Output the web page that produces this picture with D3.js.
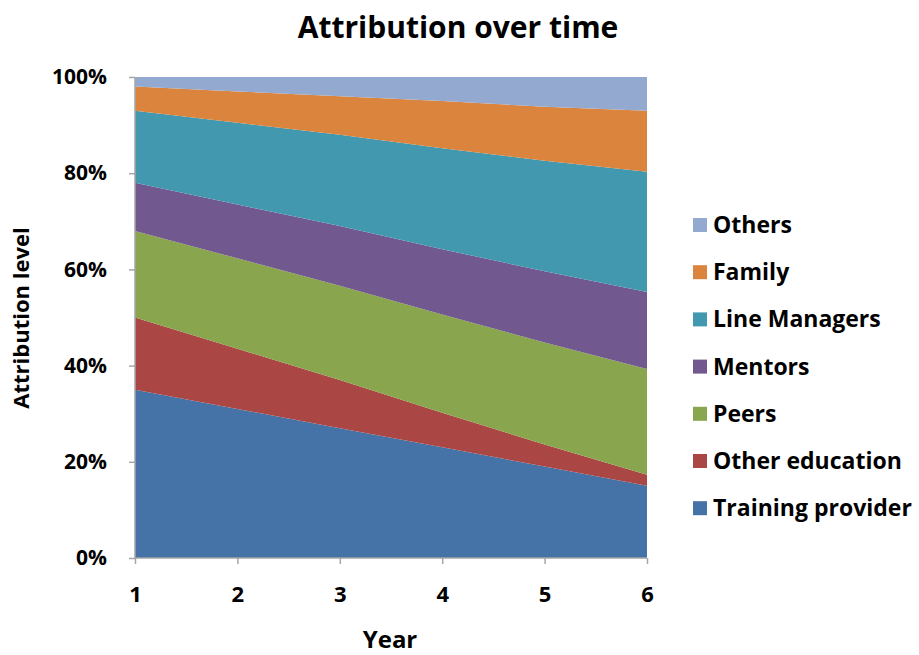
<!DOCTYPE html>
<html>
<head>
<meta charset="utf-8">
<script src="https://cdn.jsdelivr.net/npm/d3@7"></script>
<style>
  body { margin: 0; background: #fff; }
  text { font-family: "Open Sans", Lato, sans-serif; font-weight: bold; fill: #000; }
</style>
</head>
<body>
<div id="chart"></div>
<script>
// data (percent of attribution per year)
var years = [1, 2, 3, 4, 5, 6];
var seriesNames = ["Training provider", "Other education", "Peers", "Mentors", "Line Managers", "Family", "Others"];
var trainingProvider = [35, 31, 27, 23, 19, 15];
var otherEducation   = [15, 12.5, 10, 7.2, 4.6, 2.3];
var peers            = [18, 18.8, 19.6, 20.4, 21.2, 22];
var mentors          = [10, 11.2, 12.4, 13.6, 14.8, 16];
var lineManagers     = [15, 17, 19, 21, 23, 25];
var family           = [5, 6.5, 8, 9.8, 11.2, 12.7];
var others           = [2, 3, 4, 5, 6.2, 7];
var yTicks = [0, 20, 40, 60, 80, 100];

var colours = ["#4572a7", "#aa4643", "#89a54e", "#71588f", "#4198af", "#db843d", "#93a9cf"];
var allSeries = [trainingProvider, otherEducation, peers, mentors, lineManagers, family, others];

// build rows for d3.stack
var rows = years.map(function(y, i) {
  var r = {year: y};
  seriesNames.forEach(function(n, k) { r[n] = allSeries[k][i]; });
  return r;
});

var W = 919, H = 655;
var margin = {top: 77, left: 135, right: 272, bottom: 97};

var svg = d3.select("#chart").append("svg")
  .attr("width", W)
  .attr("height", H);

var x = d3.scaleLinear().domain([1, 6]).range([margin.left, W - margin.right]);
var y = d3.scaleLinear().domain([0, 100]).range([H - margin.bottom, margin.top]);

// stack, scaled so every year fills 100%
var stacked = d3.stack().keys(seriesNames).offset(d3.stackOffsetExpand)(rows);

var area = d3.area()
  .x(function(d) { return x(d.data.year); })
  .y0(function(d) { return y(d[0] * 100); })
  .y1(function(d) { return y(d[1] * 100); });

svg.selectAll(".layer")
  .data(stacked)
  .enter().append("path")
  .attr("class", "layer")
  .attr("fill", function(d, i) { return colours[i]; })
  .attr("d", area);

// axes
var axisCol = "#a6a6a6";
var yAxis = svg.append("g")
  .attr("transform", "translate(" + margin.left + ",0)")
  .call(d3.axisLeft(y).tickValues(yTicks).tickSize(6).tickPadding(22)
    .tickFormat(function(d) { return d + "%"; }));
var xAxis = svg.append("g")
  .attr("transform", "translate(0," + (H - margin.bottom) + ")")
  .call(d3.axisBottom(x).tickValues(years).tickSize(6).tickPadding(22)
    .tickFormat(d3.format("d")));

[yAxis, xAxis].forEach(function(a) {
  a.select(".domain").attr("stroke", axisCol).attr("stroke-width", 1.5);
  a.selectAll(".tick line").attr("stroke", axisCol).attr("stroke-width", 1.5);
  a.selectAll("text").style("font-size", "21px").attr("fill", "#000");
});
xAxis.selectAll("text").style("font-size", "22px");
yAxis.select(".domain").attr("d", "M0," + y(100) + "V" + y(0));
xAxis.select(".domain").attr("d", "M" + x(1) + ",0H" + x(6));

// titles
svg.append("text")
  .attr("x", 458).attr("y", 38)
  .attr("text-anchor", "middle")
  .style("font-size", "30px")
  .text("Attribution over time");

svg.append("text")
  .attr("x", 390).attr("y", 648)
  .attr("text-anchor", "middle")
  .style("font-size", "24px")
  .text("Year");

svg.append("text")
  .attr("transform", "translate(29,318) rotate(-90)")
  .attr("text-anchor", "middle")
  .style("font-size", "22px")
  .text("Attribution level");

// legend (reverse order, top = Others)
var legend = svg.selectAll(".legend")
  .data(seriesNames.slice().reverse())
  .enter().append("g")
  .attr("class", "legend")
  .attr("transform", function(d, i) { return "translate(693," + (225 + i * 47.2) + ")"; });

legend.append("rect")
  .attr("x", 0).attr("y", -7)
  .attr("width", 14).attr("height", 14)
  .attr("fill", function(d) { return colours[seriesNames.indexOf(d)]; });

legend.append("text")
  .attr("x", 20).attr("y", 0)
  .attr("dy", "0.35em")
  .style("font-size", "23px")
  .text(function(d) { return d; });
</script>
</body>
</html>
